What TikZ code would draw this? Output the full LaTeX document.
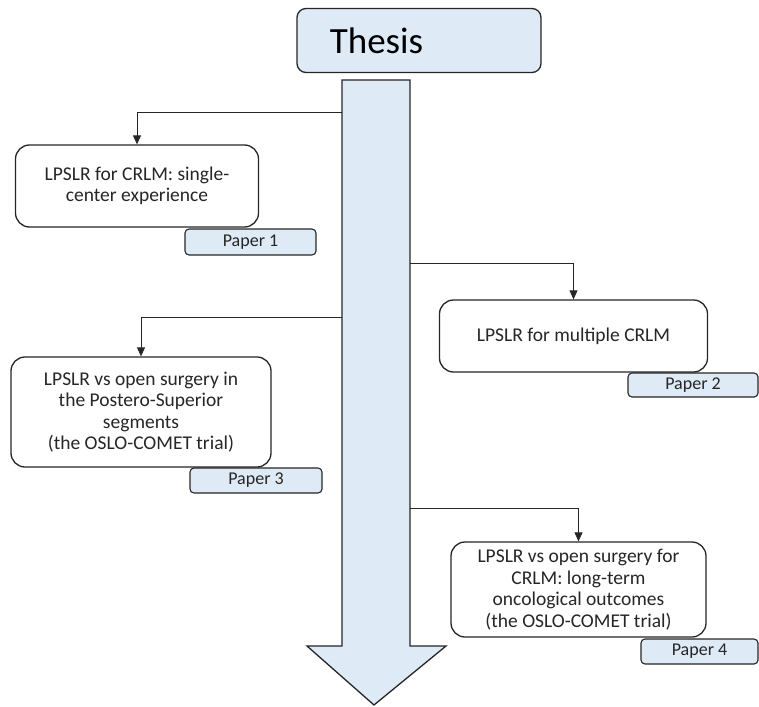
\documentclass[tikz,border=0pt]{standalone}
\usepackage{fontspec}
\setmainfont{Carlito}
\usetikzlibrary{arrows.meta}
\definecolor{lblue}{HTML}{DEEAF6}
\definecolor{edge}{HTML}{262626}
\tikzset{
  mainbox/.style={draw=edge, line width=1.3pt, fill=white, rounded corners=14pt, align=center,
    font=\fontsize{19.5}{21.5}\selectfont, inner sep=0pt, text=edge},
  paperbox/.style={draw=edge, line width=1.1pt, fill=lblue, rounded corners=4pt, align=center,
    font=\fontsize{18}{19}\selectfont, inner sep=0pt, text=edge},
  conn/.style={draw=edge, line width=0.8pt, -{Triangle[length=9pt,width=8pt]}},
}
\begin{document}
\begin{tikzpicture}[x=1pt,y=-1pt]
\useasboundingbox (0,0) rectangle (759,706);
% big arrow
\draw[edge, line width=1.3pt, fill=lblue, line join=miter]
  (342,80) -- (410,80) -- (410,646) -- (446,646) -- (374,705) -- (307,646) -- (342,646) -- cycle;
\coordinate (s1) at (342,112);
\coordinate (s2) at (410,263);
\coordinate (s3) at (342,317);
\coordinate (s4) at (410,508);
% thesis
\node[draw=edge, line width=1.3pt, fill=lblue, rounded corners=9pt, minimum width=244pt, minimum height=64pt,
  inner sep=0pt] (thesis) at (419,40.5) {};
\node[font=\fontsize{37}{40}\selectfont, inner sep=0pt, text=black] (thesistext) at (376.5,41) {Thesis};
% boxes
\node[mainbox, minimum width=243pt, minimum height=82pt] (b1) at (137,186) {LPSLR for CRLM: single-\\center experience};
\node[mainbox, minimum width=268pt, minimum height=72pt] (b2) at (573.5,336) {LPSLR for multiple CRLM};
\node[mainbox, minimum width=260pt, minimum height=110pt] (b3) at (141,412) {LPSLR vs open surgery in\\the Postero-Superior\\segments\\(the OSLO-COMET trial)};
\node[mainbox, minimum width=255pt, minimum height=95pt] (b4) at (578.5,589.5) {LPSLR vs open surgery for\\CRLM: long-term\\oncological outcomes\\(the OSLO-COMET trial)};
% papers
\node[paperbox, minimum width=131pt, minimum height=26pt] (p1) at (250.5,242) {Paper 1};
\node[paperbox, minimum width=130pt, minimum height=24pt] (p2) at (693,385) {Paper 2};
\node[paperbox, minimum width=132pt, minimum height=25pt] (p3) at (256,480.5) {Paper 3};
\node[paperbox, minimum width=117pt, minimum height=25pt] (p4) at (699.5,651.5) {Paper 4};
% connectors
\draw[conn] (s1) -| (b1.north);
\draw[conn] (s2) -| (b2.north);
\draw[conn] (s3) -| (b3.north);
\draw[conn] (s4) -| (b4.north);
\end{tikzpicture}
\end{document}
